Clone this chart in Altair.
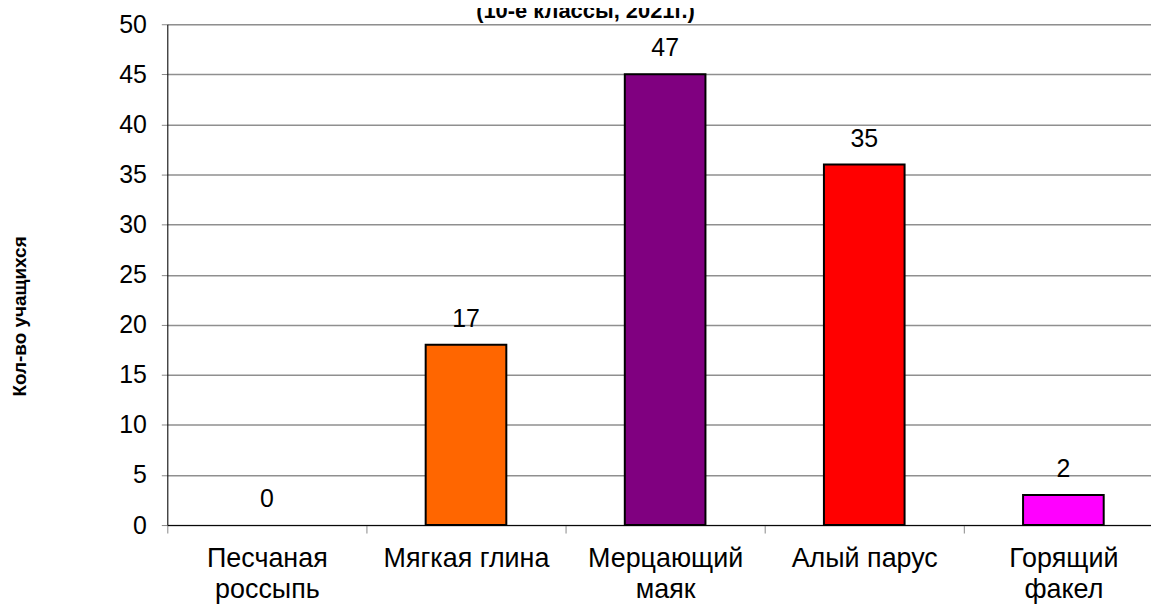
import altair as alt
import pandas as pd

categories = ["Песчаная россыпь", "Мягкая глина", "Мерцающий маяк", "Алый парус", "Горящий факел"]
bar_values = [0, 18, 45, 36, 3]
label_texts = ["0", "17", "47", "35", "2"]
bar_colors = ["#FFFF99", "#FF6600", "#800080", "#FF0000", "#FF00FF"]
single_line = ["Мягкая глина", "Алый парус"]
y_ticks = [0, 5, 10, 15, 20, 25, 30, 35, 40, 45, 50]
title_text = "(10-е классы, 2021г.)"
y_title = "Кол-во учащихся"

df = pd.DataFrame({"cat": categories, "value": bar_values, "label": label_texts})

FONT = "Liberation Sans"

label_expr = (
    "!isValid(datum.value) ? '' : "
    "indexof([" + ",".join("'" + s + "'" for s in single_line) + "], datum.value) >= 0"
    " ? datum.value : split(datum.value, ' ')"
)

x_enc = alt.X(
    "cat:N",
    sort=categories,
    scale=alt.Scale(domain=categories, paddingInner=0, paddingOuter=0, range=[0, 1000]),
    axis=alt.Axis(
        title=None,
        labelAngle=0,
        labelFontSize=27,
        labelFont=FONT,
        labelColor="black",
        labelPadding=13,
        labelLineHeight=31,
        labelExpr=label_expr,
        tickBand="extent",
        tickSize=8,
        tickColor="#888888",
        domainColor="black",
        domainWidth=1,
        grid=False,
    ),
)

y_enc = alt.Y(
    "value:Q",
    scale=alt.Scale(domain=[0, 50], nice=False),
    axis=alt.Axis(
        values=y_ticks,
        title=y_title,
        titleFont=FONT,
        titleFontSize=19,
        titleFontWeight="bold",
        titleColor="black",
        titleX=-148,
        titleY=293,
        titleBaseline="middle",
        titleAngle=270,
        labelFontSize=25,
        labelFont=FONT,
        labelColor="black",
        labelPadding=15,
        tickSize=6,
        tickColor="#888888",
        domainColor="black",
        gridColor="#8f8f8f",
        gridWidth=1.5,
    ),
)

bars = alt.Chart(df).mark_bar(
    width=alt.RelativeBandSize(0.405), stroke="black"
).encode(
    x=x_enc,
    y=y_enc,
    color=alt.Color("cat:N", scale=alt.Scale(domain=categories, range=bar_colors), legend=None),
    strokeWidth=alt.condition(alt.datum.value > 0, alt.value(2), alt.value(0)),
)

labels = alt.Chart(df).mark_text(
    fontSize=25, font=FONT, color="black", baseline="alphabetic", dy=-18
).encode(
    x=alt.X("cat:N", sort=categories),
    y=alt.Y("value:Q"),
    text="label:N",
)

title = alt.Chart(pd.DataFrame({"t": [title_text]})).mark_text(
    fontSize=22, font=FONT, fontWeight="bold", color="black", baseline="alphabetic", align="center"
).encode(
    x=alt.value(420),
    y=alt.value(-6),
    text="t:N",
)

chart = alt.layer(bars, labels, title).properties(
    width=988,
    height=503,
    autosize=alt.AutoSizeParams(type="none"),
    padding={"left": 160, "top": 15, "right": 0, "bottom": 85},
).configure_view(stroke=None).configure(background="white")

chart.save("out.html", embed_options={"renderer": "svg", "actions": False})
